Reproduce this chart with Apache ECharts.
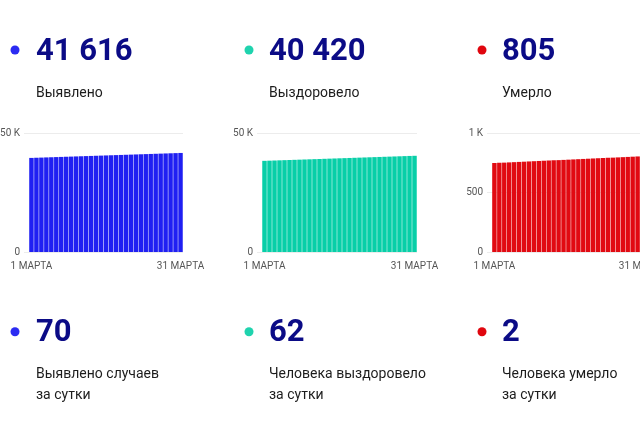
<!DOCTYPE html>
<html><head><meta charset="utf-8">
<script src="https://cdn.jsdelivr.net/npm/echarts@6/dist/echarts.min.js"></script>
<style>html,body{margin:0;padding:0;background:#fff}#c{width:640px;height:426px}</style>
</head><body><div id="c"></div>
<script>
var days = [];
for (var d = 1; d <= 31; d++) days.push(d + ' МАРТА');

var detected = [39531,39602,39670,39741,39809,39880,39948,40019,40087,40158,40226,40297,40365,40436,40504,40575,40643,40712,40781,40853,40921,40992,41060,41131,41199,41270,41338,41409,41478,41546,41616];
var recovered = [38305,38375,38446,38518,38587,38659,38730,38800,38871,38943,39012,39084,39155,39225,39296,39368,39437,39509,39580,39650,39721,39793,39862,39934,40005,40074,40146,40215,40287,40358,40420];
var deaths = [748,750,751,753,755,757,759,761,763,765,767,769,771,772,774,776,778,780,782,784,786,788,790,792,793,795,797,799,801,803,805];

var totals = ['41 616', '40 420', '805'];
var totalLabels = ['Выявлено', 'Выздоровело', 'Умерло'];
var daily = ['70', '62', '2'];
var dailyLabels = ['Выявлено случаев\nза сутки', 'Человека выздоровело\nза сутки', 'Человека умерло\nза сутки'];
var yMax = [50000, 50000, 1000];
var yInterval = [50000, 50000, 500];

var colors = ['#2020f2', '#08cfa8', '#e10a12'];
var dotColors = ['#2b2bf2', '#1fd3ae', '#e0060e'];
var numColor = '#0b0b86';
var colX = [15, 249, 482];
var textX = [36, 269, 502];
var grids = [
  {left: 24, width: 159, top: 133, height: 119, outerBoundsMode: 'none', containLabel: false},
  {left: 257, width: 160, top: 133, height: 119, outerBoundsMode: 'none', containLabel: false},
  {left: 487, width: 158, top: 133, height: 119, outerBoundsMode: 'none', containLabel: false}
];
var seriesData = [detected, recovered, deaths];

var chart = echarts.init(document.getElementById('c'), null, {renderer: 'canvas'});
var graphic = [];
for (var i = 0; i < 3; i++) {
  graphic.push({type: 'circle', shape: {cx: colX[i], cy: 50, r: 4.5}, style: {fill: dotColors[i]}});
  graphic.push({type: 'text', x: textX[i], y: 52.4, style: {text: totals[i], font: 'bold 31px Roboto', fill: numColor, verticalAlign: 'middle'}});
  graphic.push({type: 'text', x: textX[i], y: 93.2, style: {text: totalLabels[i], font: '14px Roboto', fill: '#1c1c1c', verticalAlign: 'middle'}});
  graphic.push({type: 'circle', shape: {cx: colX[i], cy: 331.7, r: 4.5}, style: {fill: dotColors[i]}});
  graphic.push({type: 'text', x: textX[i], y: 333.4, style: {text: daily[i], font: 'bold 31px Roboto', fill: numColor, verticalAlign: 'middle'}});
  graphic.push({type: 'text', x: textX[i], y: 364.4, style: {text: dailyLabels[i], font: '14px Roboto', fill: '#1c1c1c', verticalAlign: 'top', lineHeight: 21}});
}

var xAxes = [], yAxes = [], series = [];
for (var j = 0; j < 3; j++) {
  xAxes.push({
    type: 'category', gridIndex: j, data: days, min: -1,
    axisLine: {show: false}, axisTick: {show: false},
    axisLabel: {
      interval: 0, margin: 9, color: '#555', fontFamily: 'Roboto', fontSize: 10,
      formatter: function (v) { return (v === days[0] || v === days[days.length - 1]) ? v : ''; }
    }
  });
  yAxes.push({
    type: 'value', gridIndex: j, min: 0, max: yMax[j], interval: yInterval[j],
    axisLine: {show: false}, axisTick: {show: false},
    splitLine: {lineStyle: {color: '#ececec', width: 1}},
    axisLabel: {
      margin: 4, color: '#555', fontFamily: 'Roboto', fontSize: 10,
      formatter: function (v) { return v >= 1000 ? (v / 1000) + ' K' : String(v); }
    }
  });
  series.push({
    type: 'bar', xAxisIndex: j, yAxisIndex: j, data: seriesData[j],
    barCategoryGap: '10%', itemStyle: {color: colors[j]}, silent: true, animation: false
  });
}

chart.setOption({
  animation: false,
  backgroundColor: '#fff',
  textStyle: {fontFamily: 'Roboto'},
  grid: grids,
  xAxis: xAxes,
  yAxis: yAxes,
  series: series,
  graphic: graphic
});
</script>
</body></html>
